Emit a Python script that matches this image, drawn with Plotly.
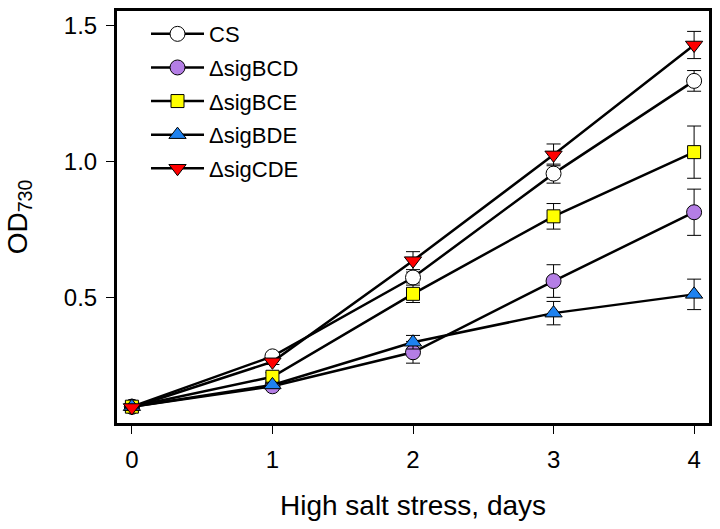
import plotly.graph_objects as go

days = [0, 1, 2, 3, 4]
x_ticks = [0, 1, 2, 3, 4]
y_ticks = [0.5, 1.0, 1.5]
y_tick_labels = ["0.5", "1.0", "1.5"]

names = ["CS", "ΔsigBCD", "ΔsigBCE", "ΔsigBDE", "ΔsigCDE"]
cs = [0.10, 0.285, 0.575, 0.957, 1.298]
cs_err = [0.005, 0.01, 0.02, 0.035, 0.038]
bcd = [0.10, 0.175, 0.30, 0.562, 0.815]
bcd_err = [0.005, 0.01, 0.04, 0.06, 0.085]
bce = [0.10, 0.21, 0.515, 0.80, 1.036]
bce_err = [0.005, 0.015, 0.032, 0.047, 0.096]
bde = [0.10, 0.18, 0.337, 0.444, 0.513]
bde_err = [0.005, 0.01, 0.025, 0.043, 0.056]
cde = [0.097, 0.265, 0.637, 1.026, 1.43]
cde_err = [0.005, 0.01, 0.033, 0.04, 0.05]

series = [cs, bcd, bce, bde, cde]
errors = [cs_err, bcd_err, bce_err, bde_err, cde_err]
colors = ["#FFFFFF", "#B47EE5", "#FFFF00", "#1E82F0", "#FF0000"]
symbols = ["circle", "circle", "square", "triangle-up", "triangle-down"]
sizes = [15, 15, 13, 15, 15]

FONT = "Arial, Liberation Sans, sans-serif"

fig = go.Figure()
for i, (nm, ys, es) in enumerate(zip(names, series, errors)):
    fig.add_trace(go.Scatter(
        x=days, y=ys, name=nm, mode="lines+markers",
        legendgroup=f"g{i}",
        line=dict(color="black", width=2.5),
        marker=dict(symbol=symbols[i], size=sizes[i], color=colors[i],
                    line=dict(color="black", width=1)),
        error_y=dict(type="data", array=es, visible=True, color="black",
                     thickness=1, width=7),
    ))

fig.update_layout(
    width=720, height=529,
    margin=dict(l=117, r=8, t=8, b=106),
    plot_bgcolor="white", paper_bgcolor="white",
    font=dict(family=FONT, color="black"),
    showlegend=True,
    legend=dict(x=0.049, y=0.995, xanchor="left", yanchor="top",
                bgcolor="rgba(0,0,0,0)", font=dict(size=22, family=FONT),
                traceorder="grouped", tracegroupgap=2, itemwidth=53),
    xaxis=dict(range=[-0.106, 4.106], tickvals=x_ticks,
               showgrid=False, zeroline=False,
               showline=True, linecolor="black", linewidth=3, mirror=True,
               ticks="outside", ticklen=8, tickwidth=1, tickcolor="black",
               tickfont=dict(size=24, family=FONT), ticklabelstandoff=5,
               title=dict(text="High salt stress, days", font=dict(size=28, family=FONT),
                          standoff=24)),
    yaxis=dict(range=[0.04, 1.555], tickvals=y_ticks, ticktext=y_tick_labels,
               showgrid=False, zeroline=False,
               showline=True, linecolor="black", linewidth=3, mirror=True,
               ticks="outside", ticklen=8, tickwidth=1, tickcolor="black",
               tickfont=dict(size=24, family=FONT), ticklabelstandoff=4,
               title=dict(text="OD<sub>730</sub>", font=dict(size=28, family=FONT),
                          standoff=29)),
)

fig.write_html("out.html", config={"displayModeBar": False},
               post_script="document.body.style.margin='0';")
